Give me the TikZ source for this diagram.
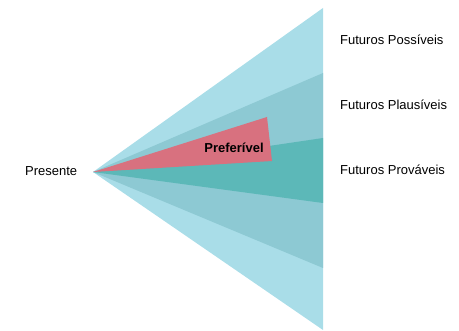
\documentclass[tikz,border=0pt]{standalone}
\usepackage{fontspec}
\setmainfont{Liberation Sans}
\definecolor{possivel}{HTML}{A9DDE8}
\definecolor{plausivel}{HTML}{8DC9D3}
\definecolor{provavel}{HTML}{5CB8B8}
\definecolor{preferivel}{HTML}{D8717F}
\begin{document}
\begin{tikzpicture}[x=1pt,y=-1pt,
  label/.style={anchor=west,inner sep=0pt,font=\fontsize{13}{15}\selectfont},
  cone/.style={draw=none}]
\useasboundingbox (0,0) rectangle (459,331);
% apex of the cone
\coordinate (apex) at (93,172);
% nested cones, widest first
\fill[possivel]  (apex) -- (323,8)   -- (323,330) -- cycle;
\fill[plausivel] (apex) -- (323,73)  -- (323,268) -- cycle;
\fill[provavel]  (apex) -- (323,138) -- (323,203) -- cycle;
\fill[preferivel] (apex) -- (267,117) -- (272,161) -- cycle;
% labels
\node[label] (presente) at (25,171) {Presente};
\node[label] (possiveis) at (340,40) {Futuros Possíveis};
\node[label] (plausiveis) at (340,105) {Futuros Plausíveis};
\node[label] (provaveis) at (340,170) {Futuros Prováveis};
\node[label,anchor=center,font=\fontsize{13}{15}\selectfont\bfseries] (pref) at (234,148) {Preferível};
\end{tikzpicture}
\end{document}
